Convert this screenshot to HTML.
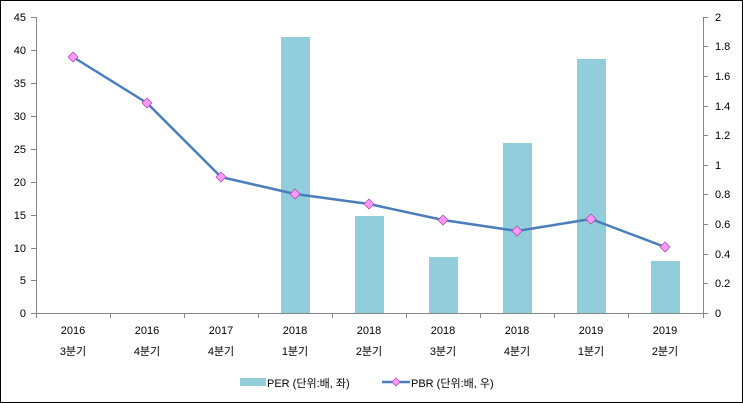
<!DOCTYPE html>
<html><head><meta charset="utf-8"><style>
html,body{margin:0;padding:0;background:#fff;}
svg{display:block;font-family:"Liberation Sans","Noto Sans CJK KR",sans-serif;}
</style></head><body>
<svg width="743" height="403" viewBox="0 0 743 403" xmlns="http://www.w3.org/2000/svg">
<rect x="0.5" y="0.5" width="742" height="402" fill="#fff" stroke="#000" stroke-width="1"/>
<g fill="#92CDDC">
<rect x="281" y="37" width="29" height="276"/>
<rect x="355" y="216" width="29" height="97"/>
<rect x="429" y="257" width="29" height="56"/>
<rect x="503" y="143" width="29" height="170"/>
<rect x="577" y="59" width="29" height="254"/>
<rect x="651" y="261" width="29" height="52"/>
</g>
<g stroke="#868686" stroke-width="1" fill="none">
<line x1="36.5" y1="17" x2="36.5" y2="313"/>
<line x1="703.5" y1="17" x2="703.5" y2="313"/>
<line x1="36" y1="313.5" x2="703" y2="313.5"/>
<path d="M31 17.5h5M31 50.5h5M31 83.5h5M31 116.5h5M31 149.5h5M31 182.5h5M31 215.5h5M31 248.5h5M31 280.5h5M31 313.5h5"/>
<path d="M703 17.5h5M703 46.5h5M703 76.5h5M703 106.5h5M703 135.5h5M703 165.5h5M703 194.5h5M703 224.5h5M703 254.5h5M703 283.5h5M703 313.5h5"/>
<path d="M36.5 313v5M110.5 313v5M184.5 313v5M258.5 313v5M332.5 313v5M406.5 313v5M480.5 313v5M554.5 313v5M628.5 313v5M703.5 313v5"/>
</g>
<g font-size="11" fill="#000" text-anchor="end">
<text x="26" y="21">45</text><text x="26" y="54">40</text><text x="26" y="87">35</text><text x="26" y="120">30</text><text x="26" y="153">25</text><text x="26" y="186">20</text><text x="26" y="219">15</text><text x="26" y="252">10</text><text x="26" y="284">5</text><text x="26" y="317">0</text>
</g>
<g font-size="11" fill="#000" text-anchor="start">
<text x="715" y="21">2</text><text x="715" y="50">1.8</text><text x="715" y="80">1.6</text><text x="715" y="110">1.4</text><text x="715" y="139">1.2</text><text x="715" y="169">1</text><text x="715" y="198">0.8</text><text x="715" y="228">0.6</text><text x="715" y="258">0.4</text><text x="715" y="287">0.2</text><text x="715" y="317">0</text>
</g>
<g font-size="11" fill="#000" text-anchor="middle">
<text x="73" y="334">2016</text><text x="73" y="355">3분기</text>
<text x="147" y="334">2016</text><text x="147" y="355">4분기</text>
<text x="221" y="334">2017</text><text x="221" y="355">4분기</text>
<text x="295" y="334">2018</text><text x="295" y="355">1분기</text>
<text x="369" y="334">2018</text><text x="369" y="355">2분기</text>
<text x="443" y="334">2018</text><text x="443" y="355">3분기</text>
<text x="517" y="334">2018</text><text x="517" y="355">4분기</text>
<text x="591" y="334">2019</text><text x="591" y="355">1분기</text>
<text x="665" y="334">2019</text><text x="665" y="355">2분기</text>
</g>
<polyline points="73,57 147,103 221,177 295,194 369,204 443,220 517,231 591,219 665,247" fill="none" stroke="#4A7EBB" stroke-width="2.5" stroke-linejoin="round"/>
<g fill="#FF99FF" stroke="#B050B0" stroke-width="0.8">
<path d="M73 52l5 5-5 5-5-5z"/><path d="M147 98l5 5-5 5-5-5z"/><path d="M221 172l5 5-5 5-5-5z"/><path d="M295 189l5 5-5 5-5-5z"/><path d="M369 199l5 5-5 5-5-5z"/><path d="M443 215l5 5-5 5-5-5z"/><path d="M517 226l5 5-5 5-5-5z"/><path d="M591 214l5 5-5 5-5-5z"/><path d="M665 242l5 5-5 5-5-5z"/>
</g>
<rect x="240" y="378" width="26" height="8" fill="#92CDDC"/>
<text x="267" y="387" font-size="11">PER (단위:배, 좌)</text>
<line x1="382" y1="382" x2="410" y2="382" stroke="#4A7EBB" stroke-width="2.5"/>
<path d="M396 378l4 4-4 4-4-4z" fill="#FF99FF" stroke="#B050B0" stroke-width="0.8"/>
<text x="411" y="387" font-size="11">PBR (단위:배, 우)</text>
</svg>
</body></html>
